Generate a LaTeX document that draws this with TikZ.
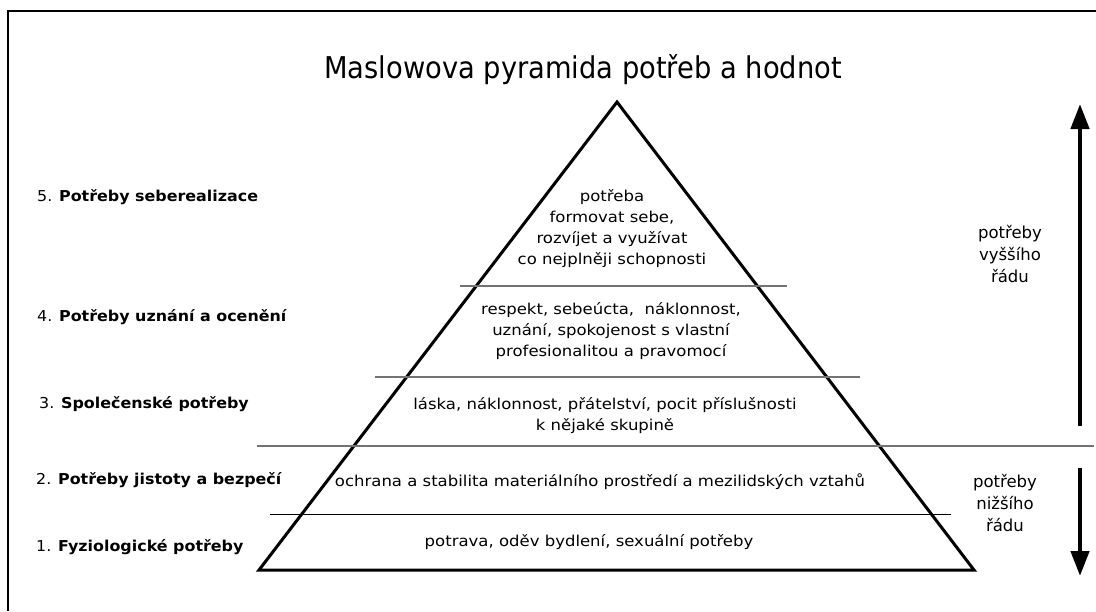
\documentclass[tikz,border=0pt]{standalone}
\usepackage{fontspec}
\setmainfont{DejaVu Sans}
\newfontfamily\titlefont[FakeStretch=0.91]{DejaVu Sans}
\newfontfamily\bodyfont[FakeStretch=1.1]{DejaVu Sans}
\newfontfamily\lvlfont[FakeStretch=1.06]{DejaVu Sans}
\usetikzlibrary{arrows.meta}

\begin{document}
\begin{tikzpicture}[x=1pt,y=-1pt,
  frameline/.style={line width=2.2pt},
  pyr/.style={line width=3pt, line join=miter},
  tier/.style={line width=1.3pt, draw=black!55},
  tierdark/.style={line width=1pt, draw=black},
  lvl/.style={anchor=west, font=\lvlfont\fontsize{15}{17}\selectfont, inner sep=0pt},
  body/.style={align=center, font=\bodyfont\fontsize{15}{21}\selectfont, inner sep=0pt},
  side/.style={align=center, font=\fontsize{16.5}{22}\selectfont, inner sep=0pt},
  bigarrow/.style={line width=4.5pt, -{Triangle[width=18pt,length=25pt]}},
]
\useasboundingbox (0,0) rectangle (1096,611);

% frame (left and top edges)
\draw[frameline] (8,611) -- (8,11) -- (1096,11);

% title
\node[font=\titlefont\fontsize{30}{34}\selectfont, inner sep=0pt] (title) at (583,70) {Maslowova pyramida potřeb a hodnot};

% pyramid outline
\coordinate (apex) at (617,102);
\coordinate (bl) at (259,570);
\coordinate (br) at (974,570);
\draw[pyr] (bl) -- (apex) -- (br) -- cycle;

% tier separators
\draw[tier] (460,286) -- (787,286);
\draw[tier] (375,377) -- (860,377);
\draw[tier] (257,446) -- (1094,446);
\draw[tierdark] (270,514) -- (951,514);

% contents of the tiers
\node[body] (t5) at (612,229) {potřeba\\formovat sebe,\\rozvíjet a využívat\\co nejplněji schopnosti};
\node[body] (t4) at (611,331) {respekt, sebeúcta,\ \ náklonnost,\\uznání, spokojenost s vlastní\\profesionalitou a pravomocí};
\node[body] (t3) at (605,416) {láska, náklonnost, přátelství, pocit příslušnosti\\k nějaké skupině};
\node[body] (t2) at (600,482) {ochrana a stabilita materiálního prostředí a mezilidských vztahů};
\node[body] (t1) at (589,542) {potrava, oděv bydlení, sexuální potřeby};

% level names
\node[lvl] (l5) at (37,197) {5. \textbf{Potřeby seberealizace}};
\node[lvl] (l4) at (37,317) {4. \textbf{Potřeby uznání a ocenění}};
\node[lvl] (l3) at (39,404) {3. \textbf{Společenské potřeby}};
\node[lvl] (l2) at (36,480) {2. \textbf{Potřeby jistoty a bezpečí}};
\node[lvl] (l1) at (36,547) {1. \textbf{Fyziologické potřeby}};

% higher / lower needs
\node[side] (hi) at (1010,254) {potřeby\\vyššího\\řádu};
\node[side] (lo) at (1005,503) {potřeby\\nižšího\\řádu};

\coordinate (upfrom) at (1080,426);
\coordinate (upto) at (1080,104);
\coordinate (downfrom) at (1080,468);
\coordinate (downto) at (1080,576);
\draw[bigarrow] (upfrom) -- (upto);
\draw[bigarrow] (downfrom) -- (downto);
\end{tikzpicture}
\end{document}
